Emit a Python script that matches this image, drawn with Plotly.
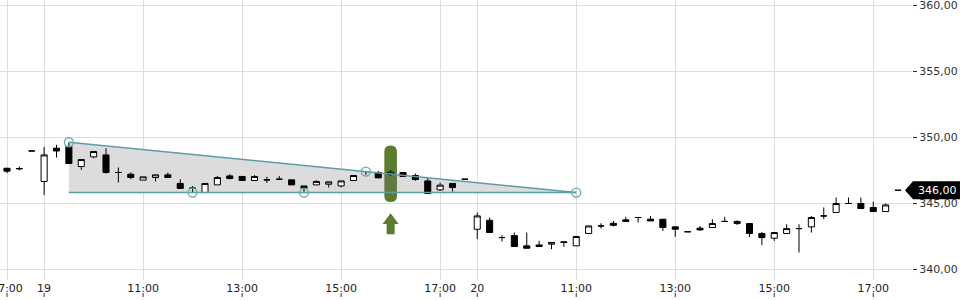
import plotly.graph_objects as go

# ---------------- data ----------------
day_slots = [f"{h:02d}:{m:02d}" for h in range(9, 18) for m in (0, 15, 30, 45)][:35]
times = ["18 17:00", "18 17:15", "18 17:30"] + ["19 " + s for s in day_slots] + ["20 " + s for s in day_slots]

opens = [347.67, 347.62, 348.98, 346.67, 349.19, 349.32, 347.80, 348.53, 348.68, 347.35,
         347.22, 346.77, 346.97, 347.17, 346.52, 346.16, 345.83, 346.41, 347.09, 347.05,
         346.74, 346.79, 346.84, 346.79, 346.33, 346.41, 346.46, 346.33, 346.74, 347.42,
         347.35, 347.20, 347.35, 347.12, 346.71, 346.03, 346.52, 346.84, 343.05, 343.73,
         342.42, 342.57, 341.79, 341.86, 341.92, 342.10, 341.79, 342.73, 343.30, 343.50,
         343.76, 343.94, 343.81, 343.81, 343.23, 342.86, 343.13, 343.18, 343.64, 343.48,
         343.48, 342.73, 342.37, 342.73, 343.10, 343.23, 344.06, 344.32, 345.00, 345.00,
         344.70, 344.39, 346.00]
highs = [347.70, 347.80, 348.98, 349.29, 349.44, 349.62, 348.33, 348.94, 349.19, 347.73,
         347.35, 347.02, 347.17, 347.35, 346.84, 346.33, 346.52, 347.09, 347.22, 347.05,
         347.14, 347.02, 347.09, 346.79, 346.33, 346.77, 346.64, 346.71, 347.12, 347.45,
         347.47, 347.52, 347.35, 347.27, 346.97, 346.59, 346.52, 346.84, 344.32, 343.94,
         342.62, 342.80, 342.80, 342.17, 342.05, 342.10, 342.50, 343.30, 343.50, 343.68,
         343.99, 343.94, 344.06, 343.81, 343.23, 342.86, 343.30, 343.81, 343.99, 343.73,
         343.48, 342.85, 342.80, 343.43, 343.43, 344.06, 344.70, 345.45, 345.45, 345.45,
         345.15, 345.00, 346.00]
lows = [347.30, 347.52, 348.98, 345.65, 348.48, 348.03, 347.55, 348.43, 347.27, 346.59,
        346.84, 346.77, 346.67, 346.97, 346.14, 345.83, 345.83, 346.41, 346.84, 346.74,
        346.74, 346.56, 346.84, 346.41, 345.83, 346.41, 346.21, 346.21, 346.74, 347.17,
        346.94, 347.07, 347.05, 346.71, 345.76, 345.95, 345.91, 346.84, 342.30, 342.80,
        342.12, 341.74, 341.61, 341.74, 341.54, 341.71, 341.79, 342.73, 343.10, 343.26,
        343.64, 343.56, 343.68, 342.92, 342.47, 342.86, 342.92, 343.18, 343.64, 343.38,
        342.47, 341.86, 342.17, 342.73, 341.29, 342.80, 343.81, 344.32, 345.00, 344.62,
        344.39, 344.39, 346.00]
closes = [347.45, 347.65, 348.98, 348.68, 348.98, 348.03, 348.33, 348.94, 347.35, 347.35,
          346.97, 347.02, 347.17, 346.97, 346.14, 346.16, 346.52, 346.97, 346.89, 346.74,
          347.05, 346.79, 346.84, 346.41, 346.16, 346.67, 346.64, 346.71, 347.12, 347.42,
          346.94, 347.37, 347.05, 346.82, 345.76, 346.39, 346.21, 346.84, 344.06, 342.80,
          342.42, 341.74, 341.61, 341.74, 342.05, 342.05, 342.50, 343.30, 343.30, 343.35,
          343.64, 343.94, 343.68, 343.18, 343.05, 342.86, 343.00, 343.48, 343.64, 343.64,
          342.73, 342.42, 342.80, 343.10, 343.10, 343.94, 344.06, 345.00, 345.00, 344.62,
          344.39, 344.89, 346.00]

tick_times = ["18 17:00", "19 09:00", "19 11:00", "19 13:00", "19 15:00", "19 17:00",
              "20 09:00", "20 11:00", "20 13:00", "20 15:00", "20 17:00"]
tick_text = ["17:00", "19", "11:00", "13:00", "15:00", "17:00", "20", "11:00", "13:00", "15:00", "17:00"]
price_ticks = [340, 345, 350, 355, 360]

# triangle pattern
pattern_start, pattern_end = "19 09:30", "20 11:00"
pattern_top, pattern_base = 349.64, 345.83
pattern_pts_times = ["19 09:30", "19 12:00", "19 14:15", "19 15:30", "20 11:00"]
pattern_pts_vals = [349.64, 345.83, 345.83, 347.42, 345.83]

# signal
signal_time = "19 16:00"
signal_top, signal_bottom = 349.39, 345.12
arrow_tip, arrow_neck, arrow_base = 344.26, 343.45, 342.67

last_price = closes[-1]

# ---------------- geometry ----------------
W, H = 960, 300
ML, MR, MT, MB = 0, 48, 0, 20
plot_w, plot_h = W - ML - MR, H - MT - MB
px_per_x = 12.375
px_per_y = 13.2
x_first_px = 7
x_range = [-x_first_px / px_per_x, (plot_w - x_first_px) / px_per_x]
y360_px = 5.5
y_range = [360 - (plot_h - y360_px) / px_per_y, 360 + y360_px / px_per_y]
ux = 1 / px_per_x
uy = 1 / px_per_y

pos = {t: i for i, t in enumerate(times)}
xs = list(range(len(times)))

TEAL = "#5d9ea3"
GREEN = "#5b7b2f"

fig = go.Figure()

fig.add_trace(go.Candlestick(
    x=xs, open=opens, high=highs, low=lows, close=closes,
    increasing=dict(line=dict(color="black", width=1), fillcolor="white"),
    decreasing=dict(line=dict(color="black", width=1), fillcolor="black"),
    hoverinfo="skip", showlegend=False,
))

xa, xb = pos[pattern_start], pos[pattern_end]
fig.add_trace(go.Scatter(x=[xa, xb], y=[pattern_top, pattern_base], mode="lines",
                         line=dict(color=TEAL, width=1.5), showlegend=False, hoverinfo="skip"))
fig.add_trace(go.Scatter(x=[xa, xb], y=[pattern_base, pattern_base], mode="lines",
                         line=dict(color=TEAL, width=1.5), showlegend=False, hoverinfo="skip"))
fig.add_trace(go.Scatter(x=[pos[t] for t in pattern_pts_times], y=pattern_pts_vals, mode="markers",
                         marker=dict(symbol="circle-open", size=9, color="#6aaab0", line=dict(width=1.3)),
                         showlegend=False, hoverinfo="skip"))

shapes = []
# green signal highlight (rounded bar)
sx = pos[signal_time]
hw = 6.3 * ux
rx, ry = hw, 6 * uy
t, b = signal_top, signal_bottom
path = (f"M {sx-hw},{t-ry} Q {sx-hw},{t} {sx},{t} Q {sx+hw},{t} {sx+hw},{t-ry} "
        f"L {sx+hw},{b+ry} Q {sx+hw},{b} {sx},{b} Q {sx-hw},{b} {sx-hw},{b+ry} Z")
shapes.append(dict(type="path", path=path, xref="x", yref="y", layer="below",
                   fillcolor=GREEN, line=dict(width=0)))
# gray triangle shading
shapes.append(dict(type="path", xref="x", yref="y", layer="below",
                   path=f"M {xa},{pattern_top} L {xb},{pattern_base} L {xa},{pattern_base} Z",
                   fillcolor="rgba(120,120,120,0.26)", line=dict(width=0)))
# arrow
hh, sh = 8 * ux, 4 * ux
apath = (f"M {sx},{arrow_tip} L {sx+hh},{arrow_neck} L {sx+sh},{arrow_neck} L {sx+sh},{arrow_base} "
         f"L {sx-sh},{arrow_base} L {sx-sh},{arrow_neck} L {sx-hh},{arrow_neck} Z")
shapes.append(dict(type="path", path=apath, xref="x", yref="y", fillcolor=GREEN, line=dict(width=0)))
# x tick marks below the labels
for tt in tick_times:
    shapes.append(dict(type="line", xref="x", yref="paper", x0=pos[tt], x1=pos[tt],
                       y0=-13 / plot_h, y1=-17 / plot_h, line=dict(color="#333", width=1)))
# last price label box
tip = (plot_w - 7) / plot_w
body_l = (plot_w + 1) / plot_w
right = W / plot_w
bh = 9 * uy
shapes.append(dict(type="path", xref="paper", yref="y",
                   path=(f"M {tip},{last_price} L {body_l},{last_price+bh} L {right},{last_price+bh} "
                         f"L {right},{last_price-bh} L {body_l},{last_price-bh} Z"),
                   fillcolor="black", line=dict(width=0)))

fig.update_layout(
    width=W, height=H, margin=dict(l=ML, r=MR, t=MT, b=MB, autoexpand=False),
    paper_bgcolor="white", plot_bgcolor="white",
    separators=",.",
    shapes=shapes,
    font=dict(family="DejaVu Sans", size=11, color="#333"),
    annotations=[dict(xref="paper", yref="y", x=(plot_w + 4) / plot_w, y=last_price,
                      xanchor="left", yanchor="middle", showarrow=False,
                      text=f"{last_price:.2f}".replace(".", ","),
                      font=dict(color="white", size=11, family="DejaVu Sans"))],
    xaxis=dict(range=x_range, tickvals=[pos[t] for t in tick_times], ticktext=tick_text,
               showgrid=True, gridcolor="#dddddd", gridwidth=1, zeroline=False, showline=False,
               ticks="", rangeslider=dict(visible=False), ticklabeloverflow="allow",
               automargin=False, tickfont=dict(color="#222", size=11)),
    yaxis=dict(range=y_range, side="right", tickvals=price_ticks, tickformat=".2f",
               showgrid=True, gridcolor="#dddddd", gridwidth=1, zeroline=False, showline=False,
               ticks="outside", ticklen=4, tickcolor="#333", ticklabeloverflow="allow",
               automargin=False, tickfont=dict(color="#333", size=11)),
)

fig.write_html("out.html")
